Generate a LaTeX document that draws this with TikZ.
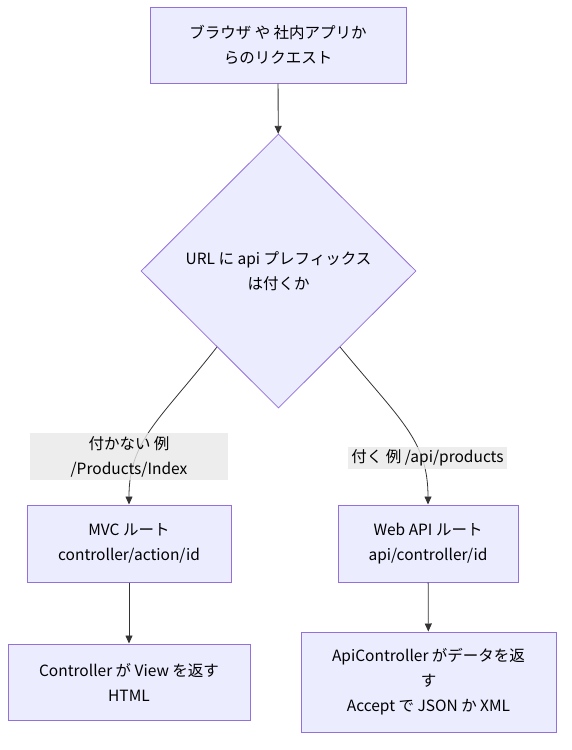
\documentclass[tikz,border=0pt]{standalone}
\usepackage{fontspec}
\setmainfont{Noto Sans CJK JP}
\usepackage{xcolor}
\usepackage{tikz}
\usetikzlibrary{shapes.geometric,arrows.meta}

\definecolor{boxfill}{HTML}{ECECFF}
\definecolor{boxline}{HTML}{9370DB}
\definecolor{edgeline}{HTML}{333333}
\definecolor{labelfill}{HTML}{E8E8E8}

\begin{document}
\begin{tikzpicture}[x=1pt, y=-1pt,
        font=\fontsize{15.5}{25}\selectfont,
        stepbox/.style={draw=boxline, fill=boxfill, line width=1pt, align=center, inner sep=0pt},
        decision/.style={diamond, draw=boxline, fill=boxfill, line width=0.8pt, align=center, inner sep=0pt,
            minimum width=275pt, minimum height=274pt},
        edgelabel/.style={fill=labelfill, fill opacity=0.8, text opacity=1, align=center, inner sep=0pt},
        flow/.style={draw=edgeline, line width=0.8pt, -{Triangle[length=8pt,width=7pt]}}]
        \useasboundingbox (0,0) rectangle (572,750);

        % Request
        \node [stepbox, minimum width=256pt, minimum height=76pt] (request) at (278,45)
            {ブラウザ や 社内アプリか\\らのリクエスト};

        % Decision
        \node [decision] (prefix) at (278.5,271) {URL に api プレフィックス\\は付くか};
        \draw [flow] (request) -- (prefix);

        % Routes
        \node [stepbox, minimum width=204pt, minimum height=77pt] (mvc) at (129,543.5)
            {MVC ルート\\controller/action/id};
        \node [stepbox, minimum width=180pt, minimum height=77pt] (webapi) at (428,543.5)
            {Web API ルート\\api/controller/id};

        % Branches
        \draw [flow] (prefix.231) .. controls (160,420) and (129,440) .. (mvc.north);
        \draw [flow] (prefix.309) .. controls (400,420) and (428,440) .. (webapi.north);
        \node [edgelabel, minimum width=198pt, minimum height=47pt] (nolabel) at (129,456.5)
            {付かない 例\\/Products/Index};
        \node [edgelabel, minimum width=159pt, minimum height=22pt] (yeslabel) at (427.5,458)
            {付く 例 /api/products};

        % Results
        \node [stepbox, minimum width=242pt, minimum height=76pt] (view) at (129,682)
            {Controller が View を返す\\HTML};
        \node [stepbox, minimum width=255pt, minimum height=100pt] (data) at (428.5,682)
            {ApiController がデータを返\\す\\Accept で JSON か XML};
        \draw [flow] (mvc) -- (view);
        \draw [flow] (webapi) -- (data);
    \end{tikzpicture}
\end{document}
